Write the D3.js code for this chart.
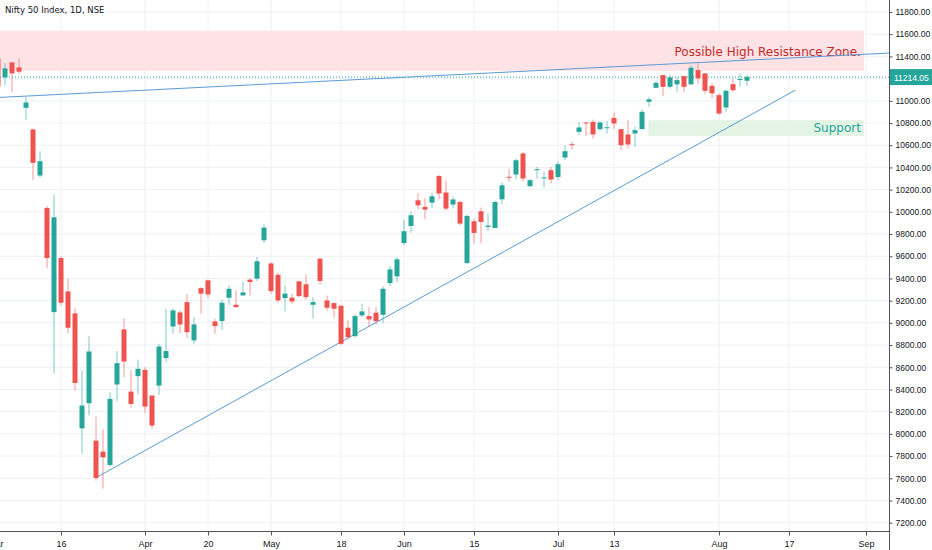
<!DOCTYPE html>
<html>
<head>
<meta charset="utf-8">
<script src="https://cdn.jsdelivr.net/npm/d3@7"></script>
<style>
  body { margin: 0; background: #fff; }
  svg { display: block; font-family: "DejaVu Sans", "Liberation Sans", sans-serif; }
</style>
</head>
<body>
<svg id="chart" width="932" height="550"></svg>
<script>
// daily OHLC, Nifty 50 (bar index 0 = 4 Mar 2020)
const opens = [11380, 11211, 11346, 11301, 10937, 10742, 10327, 10035, 9097, 9584, 9283, 9085, 8050, 8276, 7939, 7840, 7720, 8445, 8941, 8381, 8520, 8577, 8345, 8435, 8683, 8968, 9094, 9187, 8842, 9313, 9383, 9013, 9016, 9226, 9163, 9247, 9389, 9398, 9744, 9535, 9433, 9223, 9227, 9374, 9347, 9163, 9578, 9202, 9178, 9154, 8956, 8880, 9067, 9061, 9091, 9073, 9358, 9419, 9719, 9873, 10104, 10044, 10083, 10323, 10174, 10066, 10089, 9539, 9915, 10005, 9864, 9854, 10113, 10316, 10336, 10526, 10231, 10375, 10305, 10375, 10314, 10489, 10609, 10720, 10805, 10810, 10745, 10758, 10846, 10745, 10697, 10706, 10745, 10991, 11117, 11232, 11126, 11148, 11223, 11148, 11277, 11247, 11135, 11051, 10940, 11150, 11187, 11181];
const highs = [11420, 11340, 11350, 11385, 11036, 10750, 10546, 10050, 10158, 9600, 9398, 9130, 8571, 8880, 8156, 8039, 8375, 8746, 9040, 8571, 8670, 8601, 8350, 8811, 9127, 9127, 9112, 9256, 9052, 9320, 9390, 9037, 9208, 9337, 9293, 9374, 9404, 9593, 9888, 9545, 9455, 9335, 9263, 9380, 9437, 9232, 9585, 9247, 9185, 9160, 9022, 9076, 9172, 9142, 9142, 9328, 9512, 9593, 9924, 9999, 10170, 10125, 10170, 10330, 10278, 10137, 10100, 9975, 9939, 10038, 9984, 10100, 10264, 10384, 10480, 10540, 10300, 10405, 10360, 10405, 10456, 10600, 10630, 10810, 10810, 10832, 10815, 10817, 10892, 10745, 10826, 10766, 10922, 11036, 11180, 11232, 11232, 11217, 11223, 11322, 11337, 11247, 11157, 11067, 11103, 11202, 11247, 11232];
const lows = [11100, 11141, 11078, 11241, 10826, 10285, 10310, 9494, 8547, 9157, 8907, 8390, 7822, 8165, 7579, 7507, 7705, 8294, 8511, 8237, 8354, 8189, 8045, 8352, 8646, 8902, 8907, 8866, 8811, 9082, 9226, 8902, 8938, 9163, 9136, 9247, 9247, 9377, 9719, 9263, 9181, 9103, 9172, 9232, 9208, 9037, 9344, 9112, 9046, 8802, 8857, 8871, 9052, 8962, 8985, 8998, 9328, 9368, 9698, 9813, 10023, 9933, 10032, 10113, 10014, 10032, 9879, 9530, 9714, 9719, 9827, 9854, 10068, 10270, 10294, 10275, 10220, 10300, 10219, 10255, 10291, 10465, 10561, 10691, 10682, 10661, 10730, 10706, 10745, 10555, 10571, 10585, 10745, 10946, 11117, 11045, 11110, 11081, 11081, 11148, 11148, 11063, 11022, 10871, 10901, 11081, 11126, 11135];
const closes = [11130, 11292, 11247, 11262, 10985, 10441, 10456, 9584, 9951, 9181, 8956, 8459, 8255, 8742, 7603, 7789, 8315, 8637, 8652, 8270, 8586, 8246, 8075, 8787, 8746, 9112, 8986, 8916, 8986, 9263, 9256, 8971, 9181, 9307, 9142, 9274, 9368, 9555, 9858, 9286, 9202, 9263, 9193, 9241, 9232, 9187, 9377, 9136, 9127, 8811, 8871, 9061, 9103, 9031, 9016, 9307, 9481, 9572, 9825, 9969, 10059, 10020, 10140, 10165, 10029, 10111, 9894, 9963, 9810, 9909, 9876, 10089, 10239, 10307, 10465, 10300, 10285, 10384, 10310, 10291, 10429, 10546, 10600, 10760, 10796, 10697, 10805, 10762, 10796, 10600, 10607, 10736, 10901, 11013, 11162, 11126, 11211, 11187, 11126, 11298, 11202, 11090, 11067, 10886, 11090, 11096, 11196, 11214.05];

const dateTicks = [-0.4, 9, 21, 30, 39, 49, 58, 68, 80, 88, 103, 113, 124];
const dateLabels = ["Mar", "16", "Apr", "20", "May", "18", "Jun", "15", "Jul", "13", "Aug", "17", "Sep"];
const priceTicks = d3.range(7200, 11801, 200);

// drawings, in bar index / price terms
const resistanceZone = [-1, 123.7, 11270, 11630];
const supportZone = [92.9, 123.7, 10682, 10826];
const upperTrend = [[0.3, 11031], [127.3, 11430]];
const lowerTrend = [[14.1, 7609], [113.9, 11096]];
const lastPrice = 11214.05;

const UP = "#26a69a";
const DOWN = "#ef5350";
const W = 932, H = 550, plotRight = 889, plotBottom = 531;
const axisFont = "Liberation Sans, Arial, sans-serif";

const svg = d3.select("#chart");
const x = d3.scaleLinear().domain([0, 127]).range([-2, 887]);
const y = d3.scaleLinear().domain([7200, 11800]).range([522.7, 12]);

const plot = svg.append("g");
plot.append("defs").append("clipPath").attr("id", "clip")
  .append("rect").attr("width", plotRight).attr("height", plotBottom);
const g = plot.append("g").attr("clip-path", "url(#clip)");

// grid
g.selectAll(".hgrid").data(priceTicks).join("line")
  .attr("x1", 0).attr("x2", plotRight)
  .attr("y1", (d) => y(d)).attr("y2", (d) => y(d))
  .attr("stroke", "#edf0f5");
g.selectAll(".vgrid").data(dateTicks).join("line")
  .attr("x1", (d) => x(d)).attr("x2", (d) => x(d))
  .attr("y1", 0).attr("y2", plotBottom)
  .attr("stroke", "#edf0f5");

// zones
g.append("rect")
  .attr("x", x(resistanceZone[0])).attr("width", x(resistanceZone[1]) - x(resistanceZone[0]))
  .attr("y", y(resistanceZone[3])).attr("height", y(resistanceZone[2]) - y(resistanceZone[3]))
  .attr("fill", "#fde3e5");
g.append("rect")
  .attr("x", x(supportZone[0])).attr("width", x(supportZone[1]) - x(supportZone[0]))
  .attr("y", y(supportZone[3])).attr("height", y(supportZone[2]) - y(supportZone[3]))
  .attr("fill", "#e4f4e4");
g.append("text").attr("x", x(resistanceZone[1]) - 3).attr("y", 56)
  .attr("text-anchor", "end").attr("font-size", 12).attr("fill", "#c62828")
  .text("Possible High Resistance Zone.");
g.append("text").attr("x", x(supportZone[1]) - 3).attr("y", 132)
  .attr("text-anchor", "end").attr("font-size", 12).attr("fill", "#26a69a")
  .text("Support");

// last price dotted line
g.append("line").attr("x1", 0).attr("x2", plotRight)
  .attr("y1", y(lastPrice)).attr("y2", y(lastPrice))
  .attr("stroke", UP).attr("stroke-dasharray", "1,2");

// trend lines
for (const t of [upperTrend, lowerTrend]) {
  g.append("line")
    .attr("x1", x(t[0][0])).attr("y1", y(t[0][1]))
    .attr("x2", x(t[1][0])).attr("y2", y(t[1][1]))
    .attr("stroke", "#5b9bd5").attr("stroke-width", 1);
}

// candles
const bars = opens.map((o, i) => ({ i, o, h: highs[i], l: lows[i], c: closes[i] }));
const candle = g.selectAll(".candle").data(bars).join("g");
candle.append("line")
  .attr("x1", (d) => x(d.i)).attr("x2", (d) => x(d.i))
  .attr("y1", (d) => y(d.h)).attr("y2", (d) => y(d.l))
  .attr("stroke", (d) => (d.c >= d.o ? UP : DOWN)).attr("stroke-opacity", 0.6);
candle.append("rect")
  .attr("x", (d) => x(d.i) - 2.5).attr("width", 5)
  .attr("y", (d) => y(Math.max(d.o, d.c)))
  .attr("height", (d) => Math.max(1, Math.abs(y(d.o) - y(d.c))))
  .attr("fill", (d) => (d.c >= d.o ? UP : DOWN));

// axes
svg.append("line").attr("x1", plotRight + 0.5).attr("x2", plotRight + 0.5)
  .attr("y1", 0).attr("y2", H).attr("stroke", "#50535e");
svg.append("line").attr("x1", 0).attr("x2", plotRight)
  .attr("y1", plotBottom + 0.5).attr("y2", plotBottom + 0.5).attr("stroke", "#50535e");

const yAxis = svg.append("g").attr("transform", `translate(${plotRight + 0.5},0)`)
  .call(d3.axisRight(y).tickValues(priceTicks).tickSize(3).tickPadding(3)
    .tickFormat(d3.format(".2f")));
yAxis.select(".domain").remove();
yAxis.selectAll("text").attr("font-size", 8.5).attr("fill", "#131722")
  .attr("font-family", axisFont);
yAxis.selectAll("line").attr("stroke", "#50535e");

const xAxis = svg.append("g").attr("transform", `translate(0,${plotBottom + 0.5})`)
  .call(d3.axisBottom(x).tickValues(dateTicks).tickSize(4)
    .tickFormat((d, k) => dateLabels[k]));
xAxis.select(".domain").remove();
xAxis.selectAll("text").attr("font-size", 9).attr("fill", "#131722")
  .attr("font-family", axisFont).attr("dy", "0.9em");
xAxis.selectAll("line").attr("stroke", "#50535e");

// last price label
svg.append("rect").attr("x", plotRight + 1).attr("y", y(lastPrice) - 8)
  .attr("width", W - plotRight - 1).attr("height", 16).attr("fill", UP);
svg.append("text").attr("x", plotRight + 5).attr("y", y(lastPrice) + 3.5)
  .attr("font-size", 8.5).attr("font-family", axisFont)
  .attr("fill", "#fff").text(d3.format(".2f")(lastPrice));

// title
svg.append("text").attr("x", 5).attr("y", 13).attr("font-size", 8.5)
  .attr("fill", "#131722").text("Nifty 50 Index, 1D, NSE");
</script>
</body>
</html>
